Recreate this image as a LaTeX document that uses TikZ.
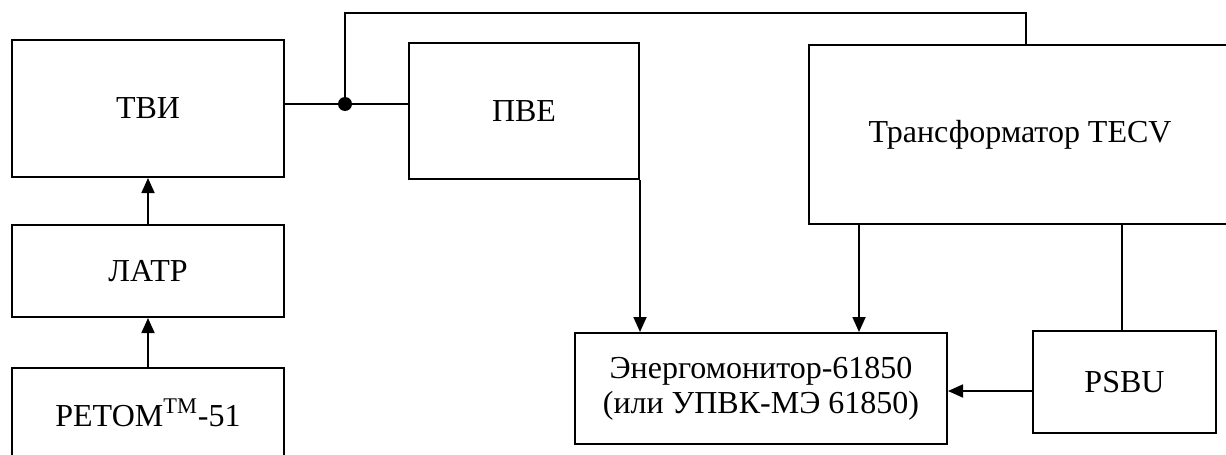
\documentclass[tikz,border=0pt]{standalone}
\usepackage{fontspec}
\setmainfont{Liberation Serif}
\usetikzlibrary{arrows.meta,calc,positioning}
\tikzset{
  blk/.style={draw,line width=1pt,rectangle,align=center,inner sep=0pt,
    font=\fontsize{16}{17.5}\selectfont},
  arr/.style={-{Triangle[length=7.5pt,width=6.5pt]}},
}
\begin{document}
\begin{tikzpicture}[x=0.5pt,y=-0.5pt,line width=0.9pt]
\useasboundingbox (0,0) rectangle (1226,455);
% drawing nodes
\node[blk,minimum width=136pt,minimum height=68.5pt] (tvi) at (148,108.5) {ТВИ};
\node[blk,minimum width=136pt,minimum height=46pt] (latr) at (148,271) {ЛАТР};
\node[blk,minimum width=136pt,minimum height=45pt] (retom) at (148,413) {РЕТОМ\textsuperscript{TM}-51};
\node[blk,minimum width=115pt,minimum height=68pt] (pve) at (524,111) {ПВЕ};
\node[blk,minimum width=211pt,minimum height=89.5pt] (tr) at (1020,134.5) {Трансформатор TECV};
\node[blk,minimum width=186pt,minimum height=55.5pt] (em) at (761,388.5) {Энергомонитор-61850\\(или УПВК-МЭ 61850)};
\node[blk,minimum width=91.5pt,minimum height=51pt] (psbu) at (1124.5,382) {PSBU};
% drawing edges
\coordinate (j) at (345,104);
\coordinate (top) at (1026,13);
\coordinate (t1) at (859,0);
\coordinate (t2) at (1122,0);
\coordinate (p) at (0,391);
\draw (j -| tvi.east) -- (j -| pve.west);
\fill (j) circle (3.5pt);
\draw (j) |- (top) -- (top |- tr.north);
\draw[arr] (retom.north) -- (latr.south);
\draw[arr] (latr.north) -- (tvi.south);
\draw[arr] (pve.south east) -- (pve.south east |- em.north);
\draw[arr] (t1 |- tr.south) -- (t1 |- em.north);
\draw (t2 |- tr.south) -- (t2 |- psbu.north);
\draw[arr] (p -| psbu.west) -- (p -| em.east);
\end{tikzpicture}
\end{document}
